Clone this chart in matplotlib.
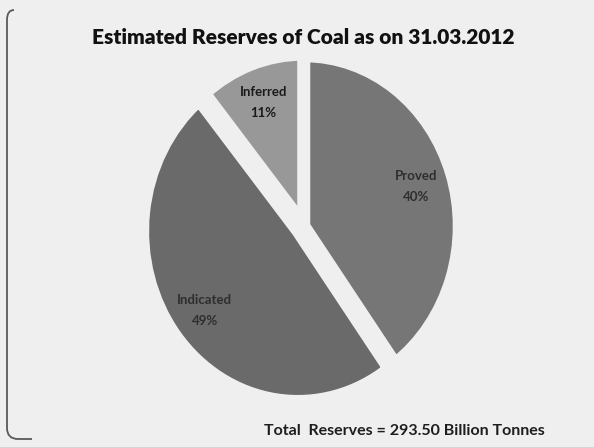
import matplotlib
matplotlib.use("Agg")
import matplotlib.pyplot as plt
from matplotlib.path import Path
from matplotlib.patches import PathPatch

# --- Данные ---
categories = ["Proved", "Indicated", "Inferred"]
shares = [40, 49, 11]
total_reserves = 293.50
title = "Estimated Reserves of Coal as on 31.03.2012"

colors = ["#767676", "#6a6a6a", "#989898"]
explode = [0.0, 0.05, 0.01]

W, H = 594, 447
fig = plt.figure(figsize=(W / 100, H / 100), dpi=100, facecolor="#efefef")

# --- Рамка слева (закруглённые углы) ---
def fx(px):
    return px / W

def fy(py):
    return 1 - py / H

verts = [(fx(14), fy(10)), (fx(7), fy(10)), (fx(7), fy(20)),
         (fx(7), fy(428)), (fx(7), fy(439)), (fx(18), fy(439)),
         (fx(32), fy(439))]
codes = [Path.MOVETO, Path.CURVE3, Path.CURVE3,
         Path.LINETO, Path.CURVE3, Path.CURVE3, Path.LINETO]
frame = PathPatch(Path(verts, codes), transform=fig.transFigure,
                  facecolor="none", edgecolor="#5a5a5a", lw=1.3)
fig.patches.append(frame)

# --- Круговая диаграмма (слегка вытянута по вертикали) ---
cx, cy = 304, 226
rx, ry = 155, 170
k = 1.2
ax = fig.add_axes([fx(cx - rx * k), fy(cy + ry * k),
                   2 * rx * k / W, 2 * ry * k / H])
ax.set_facecolor("none")

wedges, _, autotexts = ax.pie(
    shares, labels=categories, labeldistance=None, colors=colors,
    explode=explode, startangle=90, counterclock=False,
    autopct="%.0f%%", pctdistance=0.76,
    wedgeprops=dict(edgecolor="#efefef", linewidth=9),
    textprops=dict(fontsize=9.5, fontweight="bold", family="Lato"),
)
for name, t in zip(categories, autotexts):
    t.set_text(f"{name}\n{t.get_text()}")
    t.set_linespacing(1.9)
    t.set_color("#2e2e2e")
autotexts[2].set_color("#1a1a1a")

ax.set_aspect("auto")
ax.set_xlim(-k, k)
ax.set_ylim(-k, k)
ax.axis("off")

# --- Подписи ---
fig.text(fx(303), fy(37), title, ha="center", va="center",
         fontsize=15, fontweight="heavy", family="Lato", color="#111111")
fig.text(fx(404), fy(431), f"Total  Reserves = {total_reserves:.2f} Billion Tonnes",
         ha="center", va="center", fontsize=11.5, fontweight="bold",
         family="Lato", color="#1e1e1e")

fig.savefig("out.png", dpi=100, facecolor=fig.get_facecolor())
